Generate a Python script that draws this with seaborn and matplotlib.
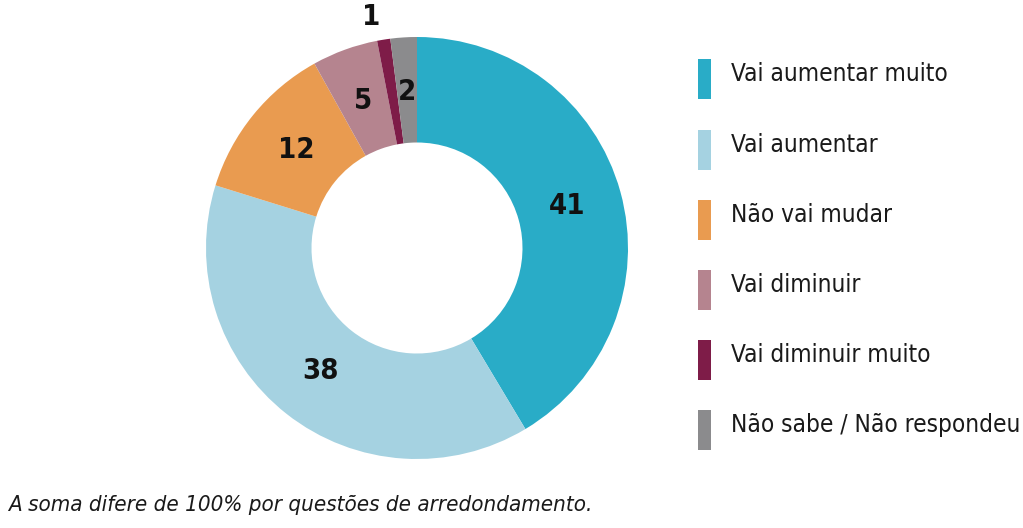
import matplotlib
matplotlib.use("Agg")
import matplotlib.pyplot as plt
from matplotlib.patches import Rectangle
import seaborn as sns
import numpy as np

categories = ["Vai aumentar muito", "Vai aumentar", "Não vai mudar",
              "Vai diminuir", "Vai diminuir muito", "Não sabe / Não respondeu"]
values = [41, 38, 12, 5, 1, 2]
colors = ["#29ACC7", "#A5D2E1", "#E99B50", "#B5848F", "#7E1C48", "#8B8B8D"]
footnote = "A soma difere de 100% por questões de arredondamento."

sns.set_theme(style="white")
plt.rcParams['font.family'] = ['DejaVu Sans']
plt.rcParams['font.stretch'] = 'condensed'

W, H = 1023, 528
fig = plt.figure(figsize=(W / 100, H / 100), dpi=100)
fig.patch.set_facecolor("white")

cx, cy, R = 417, H - 248, 211
ax = fig.add_axes([(cx - R) / W, (cy - R) / H, 2 * R / W, 2 * R / H])
pal = sns.color_palette(colors)
wedges, _ = ax.pie(values, colors=pal, startangle=90, counterclock=False,
                   radius=1.0, wedgeprops=dict(width=0.5, linewidth=0),
                   normalize=True)
ax.set_xlim(-1, 1)
ax.set_ylim(-1, 1)
ax.set_aspect("equal")
ax.axis("off")

total = sum(values)
cum = np.cumsum([0] + values)
for i, v in enumerate(values):
    mid = (cum[i] + cum[i + 1]) / 2 / total * 2 * np.pi
    r = 0.74
    if v == 1:
        r = 1.11
    x = r * np.sin(mid)
    y = r * np.cos(mid)
    if v == 1:
        x -= 0.04
    ax.text(x, y, str(v), ha="center", va="center", fontsize=21,
            fontweight="bold", fontstretch="condensed", color="#111111")

# legend
row_y = [74, 145, 215, 285, 355, 425]
for cat, col, yy in zip(categories, colors, row_y):
    fig.add_artist(Rectangle((698 / W, (H - yy - 25) / H), 13 / W, 40 / H,
                             transform=fig.transFigure, facecolor=col,
                             edgecolor="none"))
    fig.text(731 / W, (H - yy) / H, cat, ha="left", va="center",
             fontsize=17.5, fontstretch="condensed", color="#1a1a1a")

fig.text(8 / W, (H - 505) / H, footnote, ha="left", va="center",
         fontsize=16, style="italic", fontstretch="condensed", color="#1a1a1a")

fig.savefig("out.png", dpi=100)
